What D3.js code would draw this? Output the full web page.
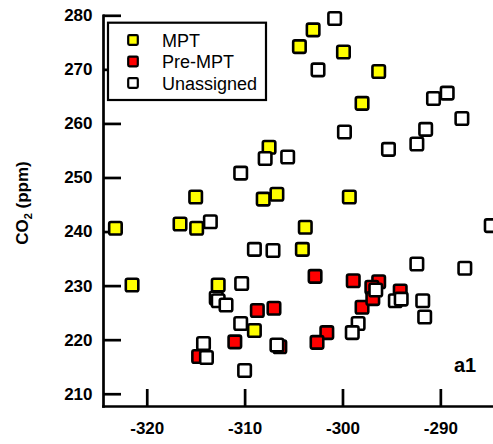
<!DOCTYPE html>
<html>
<head>
<meta charset="utf-8">
<script src="https://cdn.jsdelivr.net/npm/d3@7"></script>
<style>
  html, body { margin: 0; padding: 0; background: #fff; }
  svg { display: block; font-family: "Liberation Sans", Arial, Helvetica, sans-serif; }
</style>
</head>
<body>
<div id="chart"></div>
<script>
// series: [x value, CO2 ppm]
const mptPoints = [
    [-323.2, 240.6], [-321.5, 230.1], [-315.0, 246.4], [-316.6, 241.4], [-314.9, 240.6],
    [-312.7, 230.1], [-307.5, 255.6], [-308.1, 246.0], [-306.7, 246.9], [-299.3, 246.4],
    [-304.4, 274.2], [-303.0, 277.3], [-299.9, 273.2], [-296.3, 269.6], [-298.0, 263.7],
    [-303.8, 240.8], [-304.1, 236.7], [-309.0, 221.7]
];
const preMptPoints = [
    [-311.0, 219.6], [-314.7, 216.9], [-308.7, 225.4], [-307.0, 225.8], [-306.4, 218.7],
    [-302.8, 231.7], [-301.6, 221.3], [-302.6, 219.5], [-298.9, 230.9], [-298.0, 226.0],
    [-296.3, 230.7], [-297.0, 229.7], [-296.9, 227.6], [-294.1, 229.0]
];
const unassignedPoints = [
    [-300.8, 279.4], [-302.5, 269.9], [-299.8, 258.4], [-295.3, 255.2], [-291.5, 258.9],
    [-292.4, 256.2], [-290.7, 264.6], [-289.3, 265.6], [-287.8, 260.9], [-284.8, 241.1],
    [-292.4, 234.0], [-287.5, 233.2], [-291.8, 227.2], [-291.6, 224.2], [-294.6, 227.2],
    [-294.0, 227.5], [-296.6, 229.2], [-298.4, 223.0], [-299.0, 221.3], [-306.7, 219.0],
    [-310.0, 214.3], [-310.4, 223.0], [-310.3, 230.4], [-309.0, 236.7], [-307.1, 236.5],
    [-307.9, 253.5], [-305.6, 253.8], [-310.4, 250.8], [-313.5, 241.8], [-312.9, 227.7],
    [-312.7, 227.2], [-311.9, 226.4], [-314.2, 219.3], [-313.9, 216.7]
];
const seriesNames = ["MPT", "Pre-MPT", "Unassigned"];
const seriesColors = ["#ffff00", "#ff0000", "#ffffff"];
const xTicks = [-320, -310, -300, -290];
const yTicks = [210, 220, 230, 240, 250, 260, 270, 280];

const W = 493, H = 444;
const margin = { top: 15.3, right: 0, bottom: 38, left: 103 };
const width = W - margin.left - margin.right,
      height = H - margin.top - margin.bottom;

const svg = d3.select("#chart").append("svg")
    .attr("width", W).attr("height", H);

const g = svg.append("g")
    .attr("transform", `translate(${margin.left},${margin.top})`);

const x = d3.scaleLinear().domain([-324.47, -284.62]).range([0, width]);
const y = d3.scaleLinear().domain([207.73, 280]).range([height, 0]);

// clip so the point at the right edge gets cut like the original
svg.append("clipPath").attr("id", "clip")
    .append("rect").attr("x", -2).attr("y", -10).attr("width", width + 2).attr("height", height + 10);

// axes (drawn first, the squares sit on top of the ticks)
const yAxis = g.append("g")
    .call(d3.axisLeft(y).tickValues(yTicks).tickSizeInner(-18).tickSizeOuter(0).tickPadding(10.5));
const xAxis = g.append("g")
    .attr("transform", `translate(0,${height})`)
    .call(d3.axisBottom(x).tickValues(xTicks).tickSizeInner(-17).tickSizeOuter(0).tickPadding(16).tickFormat(d3.format("d")));

[yAxis, xAxis].forEach(a => {
    a.select(".domain").attr("stroke-width", 2.7).attr("stroke-linecap", "square");
    a.selectAll(".tick line").attr("stroke-width", 2.7);
    a.selectAll(".tick text")
        .attr("font-size", 17)
        .attr("font-weight", "bold")
        .attr("fill", "#000")
        .attr("font-family", "'Liberation Sans', Arial, sans-serif");
});
xAxis.selectAll(".tick text").text(d => "-" + Math.abs(d));

// points: red first, then yellow, white on top
const layers = [
    { data: preMptPoints, color: seriesColors[1] },
    { data: mptPoints, color: seriesColors[0] },
    { data: unassignedPoints, color: seriesColors[2] }
];
const s = 12.5;
const plot = g.append("g").attr("clip-path", "url(#clip)");
layers.forEach(layer => {
    plot.append("g").selectAll("rect")
        .data(layer.data)
        .enter().append("rect")
        .attr("x", d => x(d[0]) - s / 2)
        .attr("y", d => y(d[1]) - s / 2)
        .attr("width", s).attr("height", s)
        .attr("rx", 1.8)
        .attr("fill", layer.color)
        .attr("stroke", "#000")
        .attr("stroke-width", 2.6);
});

// y-axis title
const yTitle = svg.append("text")
    .attr("transform", "translate(28,203) rotate(-90)")
    .attr("text-anchor", "middle")
    .attr("font-size", 17)
    .attr("font-weight", "bold");
yTitle.append("tspan").text("CO");
yTitle.append("tspan").attr("font-size", 11).attr("dy", 4).text("2");
yTitle.append("tspan").attr("dy", -4).text(" (ppm)");

// legend
const legend = svg.append("g").attr("transform", "translate(108,22.7)");
legend.append("rect")
    .attr("width", 158).attr("height", 77.3)
    .attr("fill", "#fff").attr("stroke", "#000").attr("stroke-width", 2.2);
const items = legend.selectAll(".item")
    .data(seriesNames)
    .enter().append("g")
    .attr("transform", (d, i) => `translate(0,${17.3 + i * 21.5})`);
items.append("rect")
    .attr("x", 25 - 4.8).attr("y", -4.8)
    .attr("width", 9.6).attr("height", 9.6)
    .attr("rx", 1.2)
    .attr("fill", (d, i) => seriesColors[i])
    .attr("stroke", "#000").attr("stroke-width", 2.2);
items.append("text")
    .attr("x", 54).attr("y", 6.5)
    .attr("font-size", 18)
    .text(d => d);

// panel label
svg.append("text")
    .attr("x", 454).attr("y", 372)
    .attr("font-size", 20)
    .attr("font-weight", "bold")
    .text("a1");
</script>
</body>
</html>
